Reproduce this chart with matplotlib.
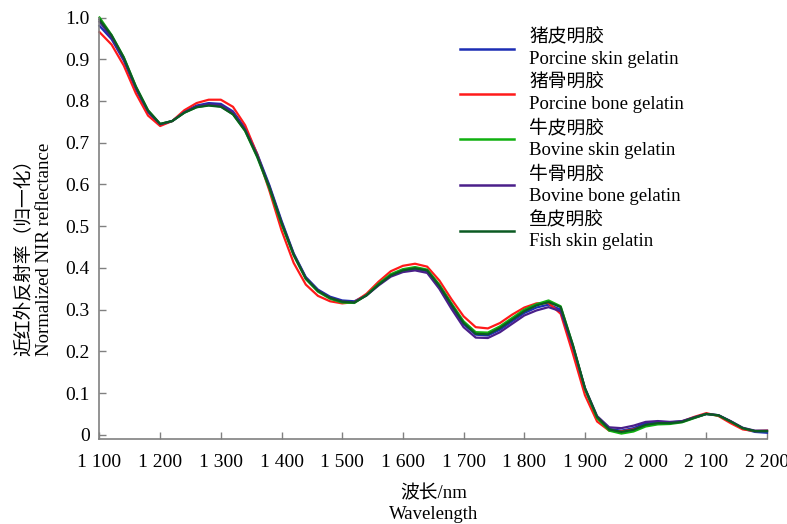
import matplotlib
matplotlib.use("Agg")
import matplotlib.pyplot as plt
import numpy as np

plt.rcParams['font.family'] = ['Liberation Serif', 'Noto Sans CJK SC', 'DejaVu Sans']
plt.rcParams['axes.unicode_minus'] = False

# NIR spectra, normalized reflectance sampled every 20 nm
wavelength = np.arange(1100, 2201, 20)

porcine_skin = [0.980, 0.948, 0.897, 0.828, 0.773, 0.743, 0.752, 0.774, 0.789, 0.795,
                0.793, 0.775, 0.735, 0.673, 0.598, 0.513, 0.435, 0.378, 0.348, 0.331,
                0.322, 0.320, 0.335, 0.360, 0.382, 0.394, 0.398, 0.392, 0.355, 0.308,
                0.265, 0.240, 0.238, 0.252, 0.272, 0.292, 0.305, 0.312, 0.300, 0.212,
                0.110, 0.042, 0.014, 0.010, 0.016, 0.028, 0.031, 0.030, 0.032, 0.041,
                0.050, 0.047, 0.032, 0.015, 0.007, 0.005]
porcine_bone = [0.965, 0.935, 0.885, 0.818, 0.765, 0.740, 0.752, 0.778, 0.795, 0.803,
                0.803, 0.786, 0.742, 0.672, 0.585, 0.490, 0.412, 0.360, 0.333, 0.320,
                0.315, 0.318, 0.338, 0.367, 0.392, 0.405, 0.410, 0.403, 0.370, 0.325,
                0.284, 0.258, 0.255, 0.268, 0.288, 0.305, 0.315, 0.316, 0.290, 0.195,
                0.095, 0.032, 0.010, 0.008, 0.013, 0.022, 0.027, 0.028, 0.032, 0.043,
                0.052, 0.045, 0.028, 0.013, 0.009, 0.010]
bovine_skin = [1.000, 0.958, 0.905, 0.835, 0.778, 0.745, 0.752, 0.772, 0.785, 0.790,
               0.787, 0.768, 0.728, 0.665, 0.590, 0.505, 0.430, 0.373, 0.343, 0.326,
               0.317, 0.316, 0.335, 0.362, 0.385, 0.397, 0.402, 0.396, 0.360, 0.315,
               0.272, 0.246, 0.245, 0.260, 0.280, 0.300, 0.313, 0.322, 0.308, 0.215,
               0.110, 0.040, 0.010, 0.003, 0.008, 0.020, 0.025, 0.026, 0.030, 0.040,
               0.050, 0.046, 0.032, 0.016, 0.009, 0.009]
bovine_bone = [0.990, 0.952, 0.900, 0.831, 0.775, 0.744, 0.752, 0.773, 0.787, 0.792,
               0.790, 0.772, 0.732, 0.670, 0.595, 0.510, 0.433, 0.376, 0.346, 0.329,
               0.320, 0.318, 0.334, 0.358, 0.379, 0.390, 0.394, 0.388, 0.350, 0.302,
               0.258, 0.233, 0.232, 0.246, 0.266, 0.286, 0.298, 0.306, 0.296, 0.212,
               0.112, 0.045, 0.018, 0.016, 0.022, 0.031, 0.033, 0.031, 0.033, 0.042,
               0.050, 0.047, 0.033, 0.017, 0.010, 0.010]
fish_skin = [0.995, 0.957, 0.904, 0.834, 0.777, 0.745, 0.752, 0.772, 0.785, 0.789,
             0.786, 0.768, 0.729, 0.667, 0.593, 0.508, 0.432, 0.375, 0.345, 0.328,
             0.319, 0.317, 0.334, 0.360, 0.382, 0.394, 0.399, 0.394, 0.357, 0.312,
             0.268, 0.242, 0.241, 0.256, 0.276, 0.296, 0.310, 0.318, 0.306, 0.216,
             0.112, 0.043, 0.013, 0.007, 0.012, 0.024, 0.028, 0.028, 0.031, 0.041,
             0.050, 0.047, 0.032, 0.016, 0.009, 0.009]

series = [
    (porcine_skin, "猪皮明胶\nPorcine skin gelatin", "#1c2db4"),
    (porcine_bone, "猪骨明胶\nPorcine bone gelatin", "#ff1a1a"),
    (bovine_skin, "牛皮明胶\nBovine skin gelatin", "#10b010"),
    (bovine_bone, "牛骨明胶\nBovine bone gelatin", "#4a1f8a"),
    (fish_skin, "鱼皮明胶\nFish skin gelatin", "#0b5a22"),
]

xticks = list(range(1100, 2201, 100))
xtick_labels = [f"{t // 1000} {t % 1000:03d}" for t in xticks]
yticks = [0, 0.1, 0.2, 0.3, 0.4, 0.5, 0.6, 0.7, 0.8, 0.9, 1.0]
ytick_labels = ["0"] + [f"{t:.1f}" for t in yticks[1:]]

fig = plt.figure(figsize=(7.87, 5.24), dpi=100)
ax = fig.add_axes([0.1264, 0.1622, 0.8482, 0.8044])

for vals, label, color in series:
    ax.plot(wavelength, vals, color=color, lw=1.6, label=label, clip_on=False)

ax.set_xlim(1100, 2200)
ax.set_ylim(-0.01, 1.0)
ax.set_xticks(xticks, xtick_labels)
ax.set_yticks(yticks, ytick_labels)
ax.tick_params(direction="in", length=5, width=1.0, color="#808080", labelsize=14)
ax.tick_params(axis="x", pad=11)
ax.tick_params(axis="y", pad=7)

for side in ("top", "right"):
    ax.spines[side].set_visible(False)
for side in ("left", "bottom"):
    ax.spines[side].set_color("#808080")
    ax.spines[side].set_linewidth(1.2)

ax.set_xlabel("波长/nm\nWavelength", fontsize=13.5, linespacing=1.25, labelpad=10)
ax.set_ylabel("近红外反射率（归一化）\nNormalized NIR reflectance",
              fontsize=13.5, linespacing=1.25, multialignment="left")
ax.yaxis.set_label_coords(-0.069, 0.451)

leg = ax.legend(loc="upper left", bbox_to_anchor=(0.54, 0.972), frameon=False,
                fontsize=13.5, handlelength=2.9, handletextpad=0.8,
                labelspacing=0.37, borderaxespad=0, borderpad=0)
for t in leg.get_texts():
    t.set_linespacing(1.32)
for line in leg.get_lines():
    line.set_linewidth(1.8)

fig.savefig("out.png", dpi=100)
